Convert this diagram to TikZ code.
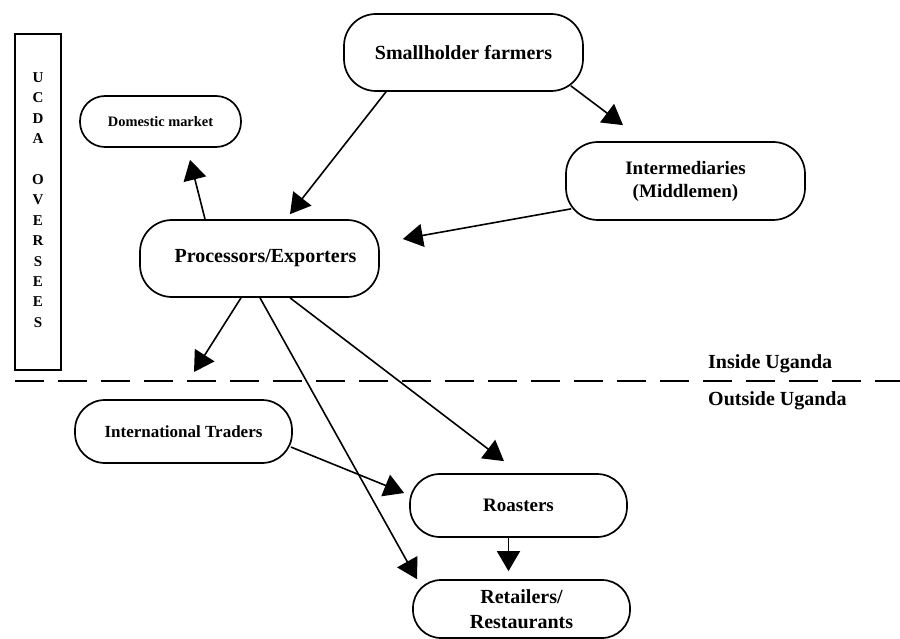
\documentclass[tikz,border=0pt]{standalone}
\usepackage{fontspec}
\setmainfont{Liberation Serif}
\usetikzlibrary{arrows.meta,calc}

\tikzset{
  actor/.style={draw, line width=1.7pt, rounded corners=#1, align=center,
    inner sep=0pt, font=\bfseries\fontsize{20}{23}\selectfont},
  flow/.style={line width=1.6pt, -{Triangle[length=20pt,width=23pt]}},
  border line/.style={line width=2.4pt, dash pattern=on 29pt off 14pt},
  zone label/.style={anchor=west, inner sep=0pt, font=\bfseries\fontsize{20}{23}\selectfont},
}

\begin{document}
\begin{tikzpicture}[x=1pt, y=-1pt]
\useasboundingbox (0,0) rectangle (900,639);

% regulator panel on the left
\node[draw, line width=2pt, minimum width=46pt, minimum height=336pt, inner sep=0pt] (ucda) at (38,202) {};
\node[align=center, inner sep=0pt, font=\bfseries\fontsize{15}{20.4}\selectfont] (ucdatext) at (38,200)
  {U\\C\\D\\A\\\mbox{}\\O\\V\\E\\R\\S\\E\\E\\S};

% actors in the chain
\node[actor=32pt, minimum width=239pt, minimum height=77pt] (sh) at (463.5,52.5) {Smallholder farmers};
\node[actor=25pt, minimum width=161pt, minimum height=51pt, font=\bfseries\fontsize{14.4}{17}\selectfont] (dm) at (160.5,121.5) {Domestic market};
\node[actor=32pt, minimum width=239pt, minimum height=77pt] (pe) at (259.5,258.5) {\hspace*{12pt}Processors/Exporters};
\node[actor=32pt, minimum width=239pt, minimum height=78pt, font=\bfseries\fontsize{19}{23}\selectfont] (im) at (685.5,181) {Intermediaries\\(Middlemen)};
\node[actor=30pt, minimum width=217pt, minimum height=63pt, font=\bfseries\fontsize{17}{20}\selectfont] (it) at (183.5,431.5) {International Traders};
\node[actor=30pt, minimum width=217pt, minimum height=63pt, font=\bfseries\fontsize{19}{23}\selectfont] (ro) at (518.5,505.5) {Roasters};
\node[actor=28pt, minimum width=217pt, minimum height=58pt, font=\bfseries\fontsize{20}{25}\selectfont] (rr) at (521.5,609) {Retailers/\\Restaurants};

% national border
\coordinate (bl) at (15,381);
\coordinate (br) at (900,381);
\draw[border line] (bl) -- (br);
\node[zone label] (inside) at (708,364) {Inside Uganda};
\node[zone label] (outside) at (708,401) {Outside Uganda};
\coordinate (export) at (194,372);

% flows
\draw[flow] ($(sh.south)+(-77.5,0)$) -- ($(pe.north)+(30.5,-5)$);
\draw[flow] ($(sh.south east)+(-13,-6)$) -- ($(im.north)+(-62.5,-16)$);
\draw[flow] ($(im.south west)+(6,-12)$) -- ($(pe.east)+(23,-19.5)$);
\draw[flow] ($(pe.north)+(-54.5,0)$) -- ($(dm.south)+(29.5,12)$);
\draw[flow] ($(pe.south)+(-18.5,0)$) -- (export);
\draw[flow] ($(pe.south)+(0.5,0)$) -- ($(rr.north)+(-104.5,0)$);
\draw[flow] ($(pe.south)+(30.5,0)$) -- ($(ro.north)+(-14.5,-12)$);
\draw[flow] ($(it.east)+(-2,15.5)$) -- ($(ro.west)+(-5,-12.5)$);
\draw[flow] ($(ro.south)+(-10,0)$) -- ($(rr.north)+(-13,-8)$);
\end{tikzpicture}
\end{document}
